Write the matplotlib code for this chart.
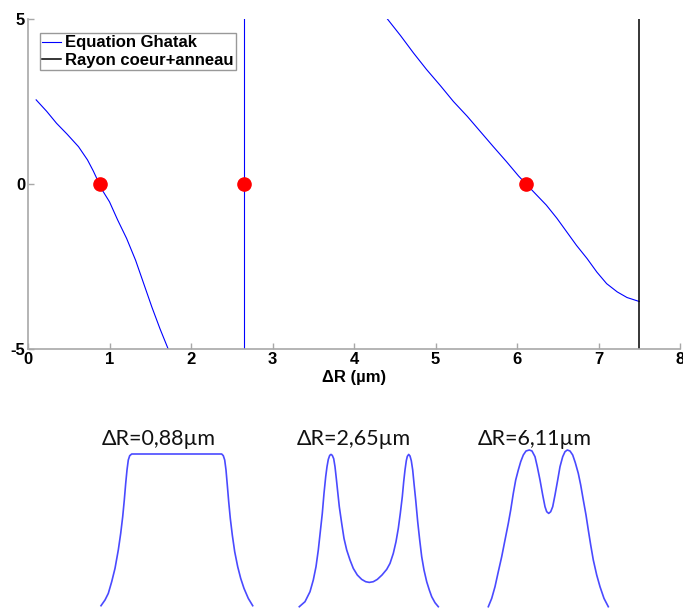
import matplotlib
matplotlib.use("Agg")
import matplotlib.pyplot as plt

# Main plot data
ghatak1_x = [0.10, 0.23, 0.35, 0.48, 0.62, 0.73, 0.80, 0.91, 1.00, 1.10, 1.21, 1.32, 1.42, 1.52, 1.62, 1.72]
ghatak1_y = [2.55, 2.20, 1.84, 1.51, 1.13, 0.73, 0.40, -0.18, -0.54, -1.09, -1.65, -2.31, -3.02, -3.73, -4.39, -5.0]
ghatak2_x = [2.65, 2.65]
ghatak2_y = [-5, 5]
ghatak3_x = [4.41, 4.57, 4.73, 4.89, 5.06, 5.22, 5.39, 5.55, 5.71, 5.87, 6.02, 6.22, 6.36,
             6.49, 6.61, 6.73, 6.86, 6.98, 7.10, 7.23, 7.35, 7.5]
ghatak3_y = [5.0, 4.50, 3.97, 3.47, 2.98, 2.50, 2.05, 1.59, 1.13, 0.68, 0.24, -0.28, -0.64,
             -1.04, -1.45, -1.86, -2.26, -2.67, -3.02, -3.27, -3.44, -3.56]
rayon_x = [7.5, 7.5]
rayon_y = [-5, 5]
roots_x = [0.88, 2.65, 6.11]
roots_y = [0, 0, 0]

# Mode profiles below (position and intensity, arbitrary units)
prof1_x = [11, 15, 18.3, 21.7, 25, 28.3, 30.7, 32.7, 34.3, 35.7, 37, 38.3, 39.7, 41.7,
           131.7, 133.3, 134.7, 136, 137.3, 138.7, 140.3, 142.3, 144.7, 147.7, 150.7, 154, 158.3, 162.7]
prof1_y = [0, 5.7, 12.3, 24, 37.3, 55.7, 72.3, 89, 105.7, 122.3, 135.7, 145.7, 150, 151.7,
           151.7, 150, 145.7, 135.7, 120.7, 104, 87.3, 70.7, 54, 39, 27.3, 17.3, 7.3, 0]
prof2_x = [9.3, 15, 20, 23.3, 26, 28.3, 30.3, 32.3, 34, 35.7, 37, 38.3, 39.7, 41, 42.3, 43.7,
           45, 46.3, 47.7, 49.3, 51.7, 54, 56.7, 60, 63.3, 67.3, 71.7, 75.7, 79.3, 83.3, 87.3,
           92, 96.7, 100, 103.3, 106, 108.3, 110.3, 112.3, 113.7, 115, 116.3, 117.3, 118.7,
           120, 121.3, 122.7, 124, 125.7, 127.7, 129.7, 131.7, 134, 136.7, 139.3, 141.7, 145, 148.3]
prof2_y = [0, 5, 15, 26.7, 40, 56.7, 75, 93.3, 113.3, 130, 140, 147.3, 151.3, 152.3, 151.3, 148,
           140, 128.3, 115, 100, 83.3, 68.3, 56.7, 46.7, 38.3, 31.7, 27.3, 25, 24.3, 25, 27.3,
           31.7, 37.3, 43.3, 53.3, 65, 78.3, 93.3, 110, 125, 136.7, 146, 150.3, 152.3,
           150.7, 146, 136.7, 123.3, 106.7, 85, 66.7, 50, 36.7, 25, 16.7, 10, 4, 0]
prof3_x = [28.3, 31.7, 35, 38.3, 41.7, 45, 48.3, 50.7, 53.3, 55.7, 58.3, 60.7, 63.3, 66, 69.3,
           72, 75, 77.3, 80, 82.7, 85, 86.7, 88.7, 90.7, 92.7, 95, 97.7, 100, 102.7, 105, 107.3,
           110, 112.7, 115.3, 118.3, 120.7, 123.3, 126, 128.3, 130.7, 133.3, 136.7, 140, 144, 148.3]
prof3_y = [0, 8.3, 20, 35, 50, 66.7, 83.3, 96.7, 113.3, 126.7, 136.7, 145, 151.7, 155.7, 156.7,
           155.7, 150, 140, 126.7, 111.7, 100, 95, 93.3, 95, 100, 111.7, 126.7, 140, 150, 155, 156.7,
           155.7, 151.7, 144, 133.3, 121.7, 106.7, 91.7, 76.7, 61.7, 46.7, 31.7, 20, 8.3, 0]
prof_labels = ["ΔR=0,88µm", "ΔR=2,65µm", "ΔR=6,11µm"]

plt.rcParams["font.family"] = ["Liberation Sans", "DejaVu Sans"]
plt.rcParams["axes.unicode_minus"] = False

W, H = 683, 608
fig = plt.figure(figsize=(W / 100, H / 100), dpi=100)

ax = fig.add_axes([28 / W, 1 - 349 / H, 652 / W, 330 / H])
ax.plot(ghatak1_x, ghatak1_y, color="#0000ff", lw=0.8, label="Equation Ghatak")
ax.plot(ghatak2_x, ghatak2_y, color="#0000ff", lw=0.8)
ax.plot(ghatak3_x, ghatak3_y, color="#0000ff", lw=0.8)
ax.plot(rayon_x, rayon_y, color="black", lw=1.1, label="Rayon coeur+anneau")
ax.plot(roots_x, roots_y, "o", color="red", ms=9.5, zorder=5)

ax.set_xlim(0, 8)
ax.set_ylim(-5, 5)
ax.set_xticks(range(0, 9))
ax.set_yticks([-5, 0, 5])
for s in ["top", "right"]:
    ax.spines[s].set_visible(False)
for s in ["left", "bottom"]:
    ax.spines[s].set_color("#a8a8a8")
    ax.spines[s].set_linewidth(1.2)
ax.tick_params(direction="in", color="#a8a8a8", length=4, width=1, labelsize=12, pad=2)
for lab in ax.get_xticklabels() + ax.get_yticklabels():
    lab.set_fontweight("bold")
ax.set_xlabel("ΔR (µm)", fontsize=12, fontweight="bold", labelpad=2)

leg = ax.legend(loc="upper left", bbox_to_anchor=(0.018, 0.958),
                prop={"weight": "bold", "size": 12}, handlelength=1.1, handletextpad=0.25,
                borderpad=0.15, labelspacing=0.15, borderaxespad=0, fancybox=False)
leg.get_frame().set_edgecolor("#808080")
leg.get_frame().set_linewidth(1)

# profiles: origin x px, baseline y px, label center x px
profiles = [
    (prof1_x, prof1_y, 90, 605.7, 159),
    (prof2_x, prof2_y, 290, 606.7, 354),
    (prof3_x, prof3_y, 460, 606.7, 535),
]
for (px, py, ox, base, cx), label in zip(profiles, prof_labels):
    pax = fig.add_axes([ox / W, 1 - base / H, 170 / W, 160 / H])
    pax.plot(px, py, color="#4a4aff", lw=1.2, clip_on=False)
    pax.set_xlim(0, 170)
    pax.set_ylim(0, 160)
    pax.axis("off")
    fig.text(cx / W, 1 - 439 / H, label, ha="center", va="center", fontsize=15.5,
             family=["Lato", "DejaVu Sans"], color="#111111")

fig.savefig("out.png", dpi=100)
